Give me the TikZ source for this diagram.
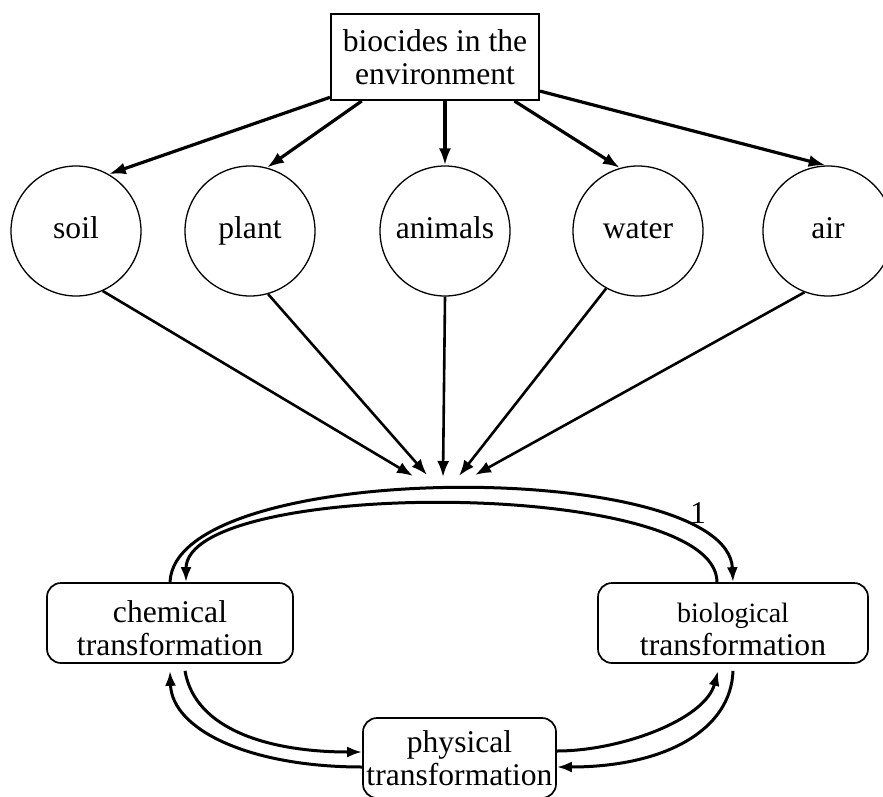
\documentclass[tikz,border=0pt]{standalone}
\usepackage{fontspec}
\setmainfont{Liberation Serif}
\usetikzlibrary{arrows.meta}

\begin{document}
\begin{tikzpicture}[x=0.5pt, y=-0.5pt,
  font=\fontsize{15.8}{16.5}\selectfont,
  sourcebox/.style={draw, line width=1pt, align=center, inner sep=0pt,
                    minimum width=104pt, minimum height=43pt},
  medium/.style={draw, circle, line width=0.65pt, inner sep=0pt, minimum size=65pt,
                 text height=1.7ex, text depth=0ex},
  process/.style={draw, rounded corners=7pt, line width=0.85pt, align=center,
                  inner sep=0pt, minimum height=40pt},
  spread/.style={-{Latex[length=8.5pt,width=6pt]}, line width=1.6pt},
  gather/.style={-{Latex[length=8pt,width=6pt]}, line width=1.3pt},
  turnover/.style={-{Latex[length=7.5pt,width=5.5pt]}, line width=1.5pt}
]
\useasboundingbox (0,0) rectangle (883,797);

\node[sourcebox] (src) at (435,57) {biocides in the\\environment};

\node[medium] (soil) at (76,231) {soil};
\node[medium] (plant) at (250,231) {plant};
\node[medium] (animals) at (445,231) {animals};
\node[medium] (water) at (638,231) {water};
\node[medium] (air) at (828,231) {air};

\node[process, minimum width=123pt, text height=32pt, text depth=0pt] (chem) at (170,623) {chemical\\transformation};
\node[process, minimum width=135pt, text height=32pt, text depth=0pt] (bio) at (733,623) {{\fontsize{14}{16}\selectfont biological}\\transformation};
\node[process, minimum width=96.5pt] (phys) at (459.5,758) {physical\\transformation};
\node (lab) at (698,513) {1};

% where the five flows meet
\coordinate (hubsoil) at (413,476);
\coordinate (hubplant) at (427,475);
\coordinate (hubanimals) at (443,477);
\coordinate (hubwater) at (459,476);
\coordinate (hubair) at (475,475);

\draw[spread] (src.-159) -- (soil.60);
\draw[spread] (src.-149.5) -- (plant.75);
\draw[spread] (src.south -| animals) -- (animals.north);
\draw[spread] (src.-29) -- (water.106);
\draw[spread] (src.-18.6) -- (air.92);

\draw[gather] (soil.-66) -- (hubsoil);
\draw[gather] (plant.-74) -- (hubplant);
\draw[gather] (animals.south) -- (hubanimals);
\draw[gather] (water.-119) -- (hubwater);
\draw[gather] (air.-111) -- (hubair);

% transformation cycle
\draw[turnover] (chem.north) .. controls (175,458) and (728,458) .. (bio.north);
\draw[turnover] ([shift={(-16,0)}]bio.north) .. controls (717,478) and (186,478) .. ([shift={(16,0)}]chem.north);
\draw[turnover] ([shift={(15,7)}]chem.south) .. controls (195,730) and (270,752) .. ([shift={(0,-6)}]phys.west);
\draw[turnover] ([shift={(0,9)}]phys.west) .. controls (250,767) and (172,730) .. ([shift={(0,7)}]chem.south);
\draw[turnover] ([shift={(0,-7)}]phys.east) .. controls (620,751) and (705,720) .. ([shift={(-15,7)}]bio.south);
\draw[turnover] ([shift={(0,7)}]bio.south) .. controls (731,730) and (665,767) .. ([shift={(0,9)}]phys.east);
\end{tikzpicture}
\end{document}
